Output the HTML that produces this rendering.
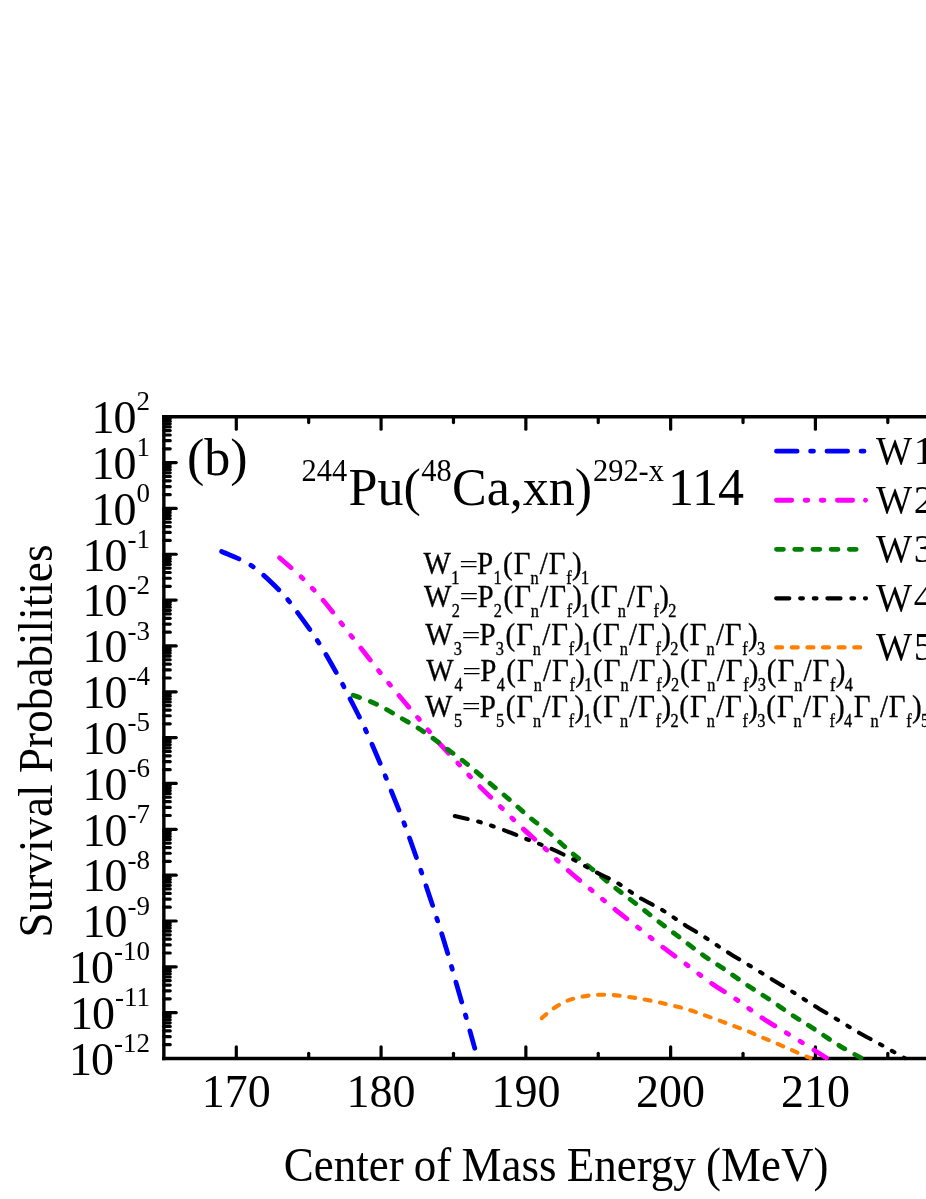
<!DOCTYPE html>
<html><head><meta charset="utf-8"><title>Survival Probabilities</title>
<style>
html,body{margin:0;padding:0;background:#fff;}
body{width:926px;height:1199px;overflow:hidden;position:relative;}
svg{position:absolute;left:0;top:0;display:block;will-change:transform;}
text{font-family:"Liberation Serif",serif;fill:#000;}
</style></head><body>
<svg width="926" height="1199" viewBox="0 0 926 1199">
<rect x="0" y="0" width="926" height="1199" fill="#fff"/>
<g stroke="#000" fill="none" stroke-linecap="butt">
<line x1="163.85" y1="415.05" x2="163.85" y2="1060.20" stroke-width="3.4"/>
<line x1="162.15" y1="416.75" x2="940" y2="416.75" stroke-width="3.4"/>
<line x1="162.15" y1="1058.5" x2="940" y2="1058.5" stroke-width="3.4"/>
</g>
<g stroke="#000" stroke-width="3.2" stroke-linecap="round" fill="none">
<line x1="163.85" y1="448.79" x2="170.2" y2="448.79"/>
<line x1="163.85" y1="440.72" x2="170.2" y2="440.72"/>
<line x1="163.85" y1="434.99" x2="170.2" y2="434.99"/>
<line x1="163.85" y1="430.55" x2="170.2" y2="430.55"/>
<line x1="163.85" y1="426.92" x2="170.2" y2="426.92"/>
<line x1="163.85" y1="423.85" x2="170.2" y2="423.85"/>
<line x1="163.85" y1="421.19" x2="170.2" y2="421.19"/>
<line x1="163.85" y1="418.85" x2="170.2" y2="418.85"/>
<line x1="163.85" y1="462.59" x2="176.2" y2="462.59"/>
<line x1="163.85" y1="494.63" x2="170.2" y2="494.63"/>
<line x1="163.85" y1="486.56" x2="170.2" y2="486.56"/>
<line x1="163.85" y1="480.83" x2="170.2" y2="480.83"/>
<line x1="163.85" y1="476.39" x2="170.2" y2="476.39"/>
<line x1="163.85" y1="472.76" x2="170.2" y2="472.76"/>
<line x1="163.85" y1="469.69" x2="170.2" y2="469.69"/>
<line x1="163.85" y1="467.03" x2="170.2" y2="467.03"/>
<line x1="163.85" y1="464.69" x2="170.2" y2="464.69"/>
<line x1="163.85" y1="508.43" x2="176.2" y2="508.43"/>
<line x1="163.85" y1="540.47" x2="170.2" y2="540.47"/>
<line x1="163.85" y1="532.40" x2="170.2" y2="532.40"/>
<line x1="163.85" y1="526.67" x2="170.2" y2="526.67"/>
<line x1="163.85" y1="522.23" x2="170.2" y2="522.23"/>
<line x1="163.85" y1="518.60" x2="170.2" y2="518.60"/>
<line x1="163.85" y1="515.53" x2="170.2" y2="515.53"/>
<line x1="163.85" y1="512.87" x2="170.2" y2="512.87"/>
<line x1="163.85" y1="510.53" x2="170.2" y2="510.53"/>
<line x1="163.85" y1="554.27" x2="176.2" y2="554.27"/>
<line x1="163.85" y1="586.31" x2="170.2" y2="586.31"/>
<line x1="163.85" y1="578.24" x2="170.2" y2="578.24"/>
<line x1="163.85" y1="572.51" x2="170.2" y2="572.51"/>
<line x1="163.85" y1="568.07" x2="170.2" y2="568.07"/>
<line x1="163.85" y1="564.44" x2="170.2" y2="564.44"/>
<line x1="163.85" y1="561.37" x2="170.2" y2="561.37"/>
<line x1="163.85" y1="558.71" x2="170.2" y2="558.71"/>
<line x1="163.85" y1="556.37" x2="170.2" y2="556.37"/>
<line x1="163.85" y1="600.11" x2="176.2" y2="600.11"/>
<line x1="163.85" y1="632.15" x2="170.2" y2="632.15"/>
<line x1="163.85" y1="624.08" x2="170.2" y2="624.08"/>
<line x1="163.85" y1="618.35" x2="170.2" y2="618.35"/>
<line x1="163.85" y1="613.91" x2="170.2" y2="613.91"/>
<line x1="163.85" y1="610.28" x2="170.2" y2="610.28"/>
<line x1="163.85" y1="607.21" x2="170.2" y2="607.21"/>
<line x1="163.85" y1="604.55" x2="170.2" y2="604.55"/>
<line x1="163.85" y1="602.20" x2="170.2" y2="602.20"/>
<line x1="163.85" y1="645.95" x2="176.2" y2="645.95"/>
<line x1="163.85" y1="677.99" x2="170.2" y2="677.99"/>
<line x1="163.85" y1="669.91" x2="170.2" y2="669.91"/>
<line x1="163.85" y1="664.19" x2="170.2" y2="664.19"/>
<line x1="163.85" y1="659.75" x2="170.2" y2="659.75"/>
<line x1="163.85" y1="656.12" x2="170.2" y2="656.12"/>
<line x1="163.85" y1="653.05" x2="170.2" y2="653.05"/>
<line x1="163.85" y1="650.39" x2="170.2" y2="650.39"/>
<line x1="163.85" y1="648.04" x2="170.2" y2="648.04"/>
<line x1="163.85" y1="691.79" x2="176.2" y2="691.79"/>
<line x1="163.85" y1="723.83" x2="170.2" y2="723.83"/>
<line x1="163.85" y1="715.75" x2="170.2" y2="715.75"/>
<line x1="163.85" y1="710.03" x2="170.2" y2="710.03"/>
<line x1="163.85" y1="705.58" x2="170.2" y2="705.58"/>
<line x1="163.85" y1="701.96" x2="170.2" y2="701.96"/>
<line x1="163.85" y1="698.89" x2="170.2" y2="698.89"/>
<line x1="163.85" y1="696.23" x2="170.2" y2="696.23"/>
<line x1="163.85" y1="693.88" x2="170.2" y2="693.88"/>
<line x1="163.85" y1="737.62" x2="176.2" y2="737.62"/>
<line x1="163.85" y1="769.67" x2="170.2" y2="769.67"/>
<line x1="163.85" y1="761.59" x2="170.2" y2="761.59"/>
<line x1="163.85" y1="755.87" x2="170.2" y2="755.87"/>
<line x1="163.85" y1="751.42" x2="170.2" y2="751.42"/>
<line x1="163.85" y1="747.79" x2="170.2" y2="747.79"/>
<line x1="163.85" y1="744.73" x2="170.2" y2="744.73"/>
<line x1="163.85" y1="742.07" x2="170.2" y2="742.07"/>
<line x1="163.85" y1="739.72" x2="170.2" y2="739.72"/>
<line x1="163.85" y1="783.46" x2="176.2" y2="783.46"/>
<line x1="163.85" y1="815.50" x2="170.2" y2="815.50"/>
<line x1="163.85" y1="807.43" x2="170.2" y2="807.43"/>
<line x1="163.85" y1="801.71" x2="170.2" y2="801.71"/>
<line x1="163.85" y1="797.26" x2="170.2" y2="797.26"/>
<line x1="163.85" y1="793.63" x2="170.2" y2="793.63"/>
<line x1="163.85" y1="790.56" x2="170.2" y2="790.56"/>
<line x1="163.85" y1="787.91" x2="170.2" y2="787.91"/>
<line x1="163.85" y1="785.56" x2="170.2" y2="785.56"/>
<line x1="163.85" y1="829.30" x2="176.2" y2="829.30"/>
<line x1="163.85" y1="861.34" x2="170.2" y2="861.34"/>
<line x1="163.85" y1="853.27" x2="170.2" y2="853.27"/>
<line x1="163.85" y1="847.54" x2="170.2" y2="847.54"/>
<line x1="163.85" y1="843.10" x2="170.2" y2="843.10"/>
<line x1="163.85" y1="839.47" x2="170.2" y2="839.47"/>
<line x1="163.85" y1="836.40" x2="170.2" y2="836.40"/>
<line x1="163.85" y1="833.75" x2="170.2" y2="833.75"/>
<line x1="163.85" y1="831.40" x2="170.2" y2="831.40"/>
<line x1="163.85" y1="875.14" x2="176.2" y2="875.14"/>
<line x1="163.85" y1="907.18" x2="170.2" y2="907.18"/>
<line x1="163.85" y1="899.11" x2="170.2" y2="899.11"/>
<line x1="163.85" y1="893.38" x2="170.2" y2="893.38"/>
<line x1="163.85" y1="888.94" x2="170.2" y2="888.94"/>
<line x1="163.85" y1="885.31" x2="170.2" y2="885.31"/>
<line x1="163.85" y1="882.24" x2="170.2" y2="882.24"/>
<line x1="163.85" y1="879.59" x2="170.2" y2="879.59"/>
<line x1="163.85" y1="877.24" x2="170.2" y2="877.24"/>
<line x1="163.85" y1="920.98" x2="176.2" y2="920.98"/>
<line x1="163.85" y1="953.02" x2="170.2" y2="953.02"/>
<line x1="163.85" y1="944.95" x2="170.2" y2="944.95"/>
<line x1="163.85" y1="939.22" x2="170.2" y2="939.22"/>
<line x1="163.85" y1="934.78" x2="170.2" y2="934.78"/>
<line x1="163.85" y1="931.15" x2="170.2" y2="931.15"/>
<line x1="163.85" y1="928.08" x2="170.2" y2="928.08"/>
<line x1="163.85" y1="925.42" x2="170.2" y2="925.42"/>
<line x1="163.85" y1="923.08" x2="170.2" y2="923.08"/>
<line x1="163.85" y1="966.82" x2="176.2" y2="966.82"/>
<line x1="163.85" y1="998.86" x2="170.2" y2="998.86"/>
<line x1="163.85" y1="990.79" x2="170.2" y2="990.79"/>
<line x1="163.85" y1="985.06" x2="170.2" y2="985.06"/>
<line x1="163.85" y1="980.62" x2="170.2" y2="980.62"/>
<line x1="163.85" y1="976.99" x2="170.2" y2="976.99"/>
<line x1="163.85" y1="973.92" x2="170.2" y2="973.92"/>
<line x1="163.85" y1="971.26" x2="170.2" y2="971.26"/>
<line x1="163.85" y1="968.92" x2="170.2" y2="968.92"/>
<line x1="163.85" y1="1012.66" x2="176.2" y2="1012.66"/>
<line x1="163.85" y1="1044.70" x2="170.2" y2="1044.70"/>
<line x1="163.85" y1="1036.63" x2="170.2" y2="1036.63"/>
<line x1="163.85" y1="1030.90" x2="170.2" y2="1030.90"/>
<line x1="163.85" y1="1026.46" x2="170.2" y2="1026.46"/>
<line x1="163.85" y1="1022.83" x2="170.2" y2="1022.83"/>
<line x1="163.85" y1="1019.76" x2="170.2" y2="1019.76"/>
<line x1="163.85" y1="1017.10" x2="170.2" y2="1017.10"/>
<line x1="163.85" y1="1014.76" x2="170.2" y2="1014.76"/>
<line x1="236.30" y1="416.75" x2="236.30" y2="429.2"/>
<line x1="236.30" y1="1058.5" x2="236.30" y2="1046.8"/>
<line x1="308.69" y1="416.75" x2="308.69" y2="422.6"/>
<line x1="308.69" y1="1058.5" x2="308.69" y2="1053.3"/>
<line x1="381.08" y1="416.75" x2="381.08" y2="429.2"/>
<line x1="381.08" y1="1058.5" x2="381.08" y2="1046.8"/>
<line x1="453.47" y1="416.75" x2="453.47" y2="422.6"/>
<line x1="453.47" y1="1058.5" x2="453.47" y2="1053.3"/>
<line x1="525.86" y1="416.75" x2="525.86" y2="429.2"/>
<line x1="525.86" y1="1058.5" x2="525.86" y2="1046.8"/>
<line x1="598.25" y1="416.75" x2="598.25" y2="422.6"/>
<line x1="598.25" y1="1058.5" x2="598.25" y2="1053.3"/>
<line x1="670.64" y1="416.75" x2="670.64" y2="429.2"/>
<line x1="670.64" y1="1058.5" x2="670.64" y2="1046.8"/>
<line x1="743.03" y1="416.75" x2="743.03" y2="422.6"/>
<line x1="743.03" y1="1058.5" x2="743.03" y2="1053.3"/>
<line x1="815.42" y1="416.75" x2="815.42" y2="429.2"/>
<line x1="815.42" y1="1058.5" x2="815.42" y2="1046.8"/>
<line x1="887.81" y1="416.75" x2="887.81" y2="422.6"/>
<line x1="887.81" y1="1058.5" x2="887.81" y2="1053.3"/>
<line x1="960.20" y1="416.75" x2="960.20" y2="429.2"/>
<line x1="960.20" y1="1058.5" x2="960.20" y2="1046.8"/>
</g>
<defs><clipPath id="pc"><rect x="160" y="410" width="780" height="650.2"/></clipPath></defs>
<g fill="none" stroke-linecap="round" stroke-linejoin="round" clip-path="url(#pc)">
<path d="M221.6,551.5 C226.6,553.9 241.8,559.2 251.6,565.8 C261.4,572.4 272.7,583.6 280.2,591.2 C287.7,598.8 290.2,602.8 296.5,611.2 C302.8,619.6 311.4,631.4 318.1,641.7 C324.8,652.0 331.2,663.5 336.5,673.0 C341.8,682.5 345.2,689.2 350.0,698.6 C354.8,708.0 360.4,718.7 365.4,729.5 C370.4,740.3 375.8,753.0 380.1,763.2 C384.4,773.4 387.1,780.6 391.1,790.6 C395.1,800.6 399.9,812.1 404.1,823.2 C408.3,834.3 412.7,847.1 416.3,857.3 C419.9,867.4 422.1,874.0 425.5,884.1 C428.9,894.2 433.0,906.6 436.7,918.0 C440.4,929.4 444.4,942.1 447.5,952.6 C450.6,963.1 452.5,970.3 455.5,980.7 C458.5,991.1 462.2,1003.5 465.4,1014.8 C468.6,1026.1 473.2,1042.7 474.8,1048.3" stroke="#0000ff" stroke-width="4.8" stroke-dasharray="20.6 13.5 2.9 13.5" stroke-dashoffset="1.7"/>
<path d="M279.6,557.8 C283.3,561.1 294.9,570.8 302.0,577.7 C309.1,584.7 315.9,591.9 322.5,599.5 C329.1,607.1 335.2,615.5 341.5,623.5 C347.8,631.5 354.0,639.3 360.3,647.3 C366.6,655.3 372.9,663.5 379.3,671.5 C385.7,679.5 392.1,687.3 398.5,695.0 C404.9,702.7 411.4,710.1 417.9,717.8 C424.4,725.4 430.5,733.2 437.3,740.9 C444.1,748.6 451.6,756.3 458.5,763.8 C465.4,771.3 471.9,778.6 479.0,785.8 C486.1,793.0 493.8,800.2 501.0,807.2 C508.2,814.2 514.7,821.0 522.0,827.8 C529.3,834.6 537.2,841.2 544.7,848.2 C552.2,855.2 559.6,862.8 567.2,869.6 C574.8,876.4 582.6,882.7 590.3,889.1 C598.0,895.5 605.7,901.9 613.6,908.3 C621.5,914.7 629.8,921.0 637.8,927.3 C645.8,933.6 653.5,940.1 661.6,946.3 C669.7,952.5 678.3,958.5 686.5,964.6 C694.7,970.7 702.7,977.2 711.0,983.0 C719.3,988.8 727.8,993.6 736.1,999.3 C744.4,1005.0 752.6,1011.6 761.0,1017.2 C769.4,1022.8 778.1,1027.7 786.6,1033.0 C795.1,1038.3 805.6,1044.7 812.3,1048.9 C818.9,1053.1 824.1,1056.5 826.5,1058.0" stroke="#ff00ff" stroke-width="4.8" stroke-dasharray="15.2 13.5 2.6 13.5 2.6 13.5"/>
<path d="M353.2,695.2 C356.9,696.6 368.0,700.1 375.7,703.8 C383.4,707.4 391.6,712.5 399.5,717.1 C407.4,721.7 415.8,726.4 423.3,731.4 C430.8,736.4 437.3,741.6 444.5,747.0 C451.7,752.4 459.4,758.0 466.5,763.6 C473.6,769.2 480.0,775.0 487.0,780.9 C494.0,786.8 501.5,792.8 508.6,798.9 C515.7,805.0 522.5,811.4 529.5,817.3 C536.5,823.1 543.6,828.1 550.6,834.0 C557.6,839.9 564.3,846.6 571.3,852.5 C578.3,858.4 585.6,863.9 592.7,869.6 C599.8,875.3 606.9,881.3 614.0,886.9 C621.1,892.5 628.1,897.7 635.4,903.3 C642.6,908.9 650.2,915.0 657.5,920.7 C664.8,926.4 672.0,931.7 679.4,937.3 C686.8,942.9 694.4,949.0 701.8,954.2 C709.2,959.5 716.2,963.7 723.7,968.8 C731.2,973.9 739.3,979.8 746.9,984.9 C754.5,990.0 761.5,994.2 769.1,999.3 C776.7,1004.4 785.1,1010.4 792.7,1015.4 C800.3,1020.4 807.1,1024.4 814.7,1029.4 C822.4,1034.4 830.8,1040.4 838.6,1045.2 C846.4,1050.0 857.5,1055.9 861.3,1058.0" stroke="#008000" stroke-width="4.8" stroke-dasharray="6.9 11.3"/>
<path d="M454.8,816.0 C458.6,816.9 470.0,819.3 477.9,821.5 C485.8,823.7 493.9,826.5 502.0,829.4 C510.1,832.3 518.3,835.9 526.3,839.0 C534.3,842.1 542.1,844.8 549.9,848.2 C557.7,851.6 565.6,855.4 573.2,859.4 C580.8,863.4 588.2,868.0 595.7,872.0 C603.2,876.0 610.7,879.0 618.1,883.4 C625.5,887.8 632.8,893.7 640.2,898.1 C647.6,902.5 655.0,905.6 662.3,910.0 C669.5,914.4 676.6,919.6 683.7,924.2 C690.9,928.8 698.0,932.9 705.2,937.5 C712.4,942.1 719.6,947.2 726.8,951.7 C733.9,956.2 740.8,960.2 748.1,964.7 C755.4,969.2 763.5,974.1 770.8,978.6 C778.1,983.1 784.8,987.0 792.0,991.5 C799.2,996.0 806.8,1001.1 814.2,1005.7 C821.6,1010.3 828.8,1014.4 836.2,1018.9 C843.6,1023.4 851.3,1028.2 858.7,1032.5 C866.1,1036.8 873.3,1040.4 880.6,1044.5 C887.9,1048.6 898.5,1054.7 902.6,1057.0 C906.7,1059.3 904.6,1058.1 905.0,1058.3" stroke="#000000" stroke-width="4.1" stroke-dasharray="13.2 10.8 2.8 10.8 2.8 10.8"/>
<path d="M541.8,1018.1 C543.5,1016.7 548.1,1012.3 552.1,1009.5 C556.1,1006.7 561.1,1003.4 565.8,1001.3 C570.5,999.2 575.4,998.1 580.5,997.0 C585.6,995.9 591.0,995.2 596.2,994.9 C601.4,994.6 606.6,994.7 611.7,995.0 C616.9,995.3 622.0,996.0 627.1,996.7 C632.2,997.4 637.5,998.2 642.6,999.1 C647.8,1000.0 652.9,1001.1 658.0,1002.2 C663.1,1003.3 668.2,1004.4 673.4,1005.7 C678.5,1007.0 684.0,1008.3 688.9,1009.8 C693.8,1011.3 698.0,1013.0 702.9,1014.7 C707.8,1016.4 713.3,1018.3 718.3,1020.1 C723.3,1021.9 728.1,1023.9 733.0,1025.7 C737.9,1027.5 742.9,1029.2 747.6,1031.1 C752.4,1033.0 756.7,1035.2 761.5,1037.2 C766.3,1039.2 771.3,1041.2 776.2,1043.3 C781.1,1045.4 786.1,1047.5 790.8,1049.6 C795.5,1051.7 801.2,1054.3 804.5,1055.7 C807.8,1057.1 809.5,1057.6 810.5,1058.0" stroke="#ff8000" stroke-width="4.1" stroke-dasharray="6.0 9.62"/>
<line x1="776.50" y1="451.20" x2="866.0" y2="451.20" stroke="#0000ff" stroke-width="4.8" stroke-dasharray="20.6 13.5 2.9 13.5"/>
<line x1="776.50" y1="500.25" x2="865.0" y2="500.25" stroke="#ff00ff" stroke-width="4.8" stroke-dasharray="15.2 13.5 2.6 13.5 2.6 13.5"/>
<circle cx="865.5" cy="500.25" r="2.40" fill="#ff00ff" stroke="none"/>
<line x1="776.50" y1="549.30" x2="866.0" y2="549.30" stroke="#008000" stroke-width="4.8" stroke-dasharray="6.9 11.3"/>
<line x1="776.15" y1="598.35" x2="866.0" y2="598.35" stroke="#000000" stroke-width="4.1" stroke-dasharray="13.2 10.8 2.8 10.8 2.8 10.8"/>
<line x1="776.15" y1="647.40" x2="866.0" y2="647.40" stroke="#ff8000" stroke-width="4.1" stroke-dasharray="6.0 9.62"/>
</g>
<text x="149.1" y="432.9" text-anchor="end" font-size="46"><tspan dx="1.0">1</tspan><tspan dx="-1.0">0</tspan><tspan font-size="27" dy="-22.6">2</tspan></text>
<text x="149.1" y="478.8" text-anchor="end" font-size="46"><tspan dx="1.0">1</tspan><tspan dx="-1.0">0</tspan><tspan font-size="27" dy="-22.6">1</tspan></text>
<text x="149.1" y="524.6" text-anchor="end" font-size="46"><tspan dx="1.0">1</tspan><tspan dx="-1.0">0</tspan><tspan font-size="27" dy="-22.6">0</tspan></text>
<text x="149.1" y="570.5" text-anchor="end" font-size="46"><tspan dx="1.0">1</tspan><tspan dx="-1.0">0</tspan><tspan font-size="27" dy="-22.6">-1</tspan></text>
<text x="149.1" y="616.3" text-anchor="end" font-size="46"><tspan dx="1.0">1</tspan><tspan dx="-1.0">0</tspan><tspan font-size="27" dy="-22.6">-2</tspan></text>
<text x="149.1" y="662.1" text-anchor="end" font-size="46"><tspan dx="1.0">1</tspan><tspan dx="-1.0">0</tspan><tspan font-size="27" dy="-22.6">-3</tspan></text>
<text x="149.1" y="708.0" text-anchor="end" font-size="46"><tspan dx="1.0">1</tspan><tspan dx="-1.0">0</tspan><tspan font-size="27" dy="-22.6">-4</tspan></text>
<text x="149.1" y="753.8" text-anchor="end" font-size="46"><tspan dx="1.0">1</tspan><tspan dx="-1.0">0</tspan><tspan font-size="27" dy="-22.6">-5</tspan></text>
<text x="149.1" y="799.7" text-anchor="end" font-size="46"><tspan dx="1.0">1</tspan><tspan dx="-1.0">0</tspan><tspan font-size="27" dy="-22.6">-6</tspan></text>
<text x="149.1" y="845.5" text-anchor="end" font-size="46"><tspan dx="1.0">1</tspan><tspan dx="-1.0">0</tspan><tspan font-size="27" dy="-22.6">-7</tspan></text>
<text x="149.1" y="891.3" text-anchor="end" font-size="46"><tspan dx="1.0">1</tspan><tspan dx="-1.0">0</tspan><tspan font-size="27" dy="-22.6">-8</tspan></text>
<text x="149.1" y="937.2" text-anchor="end" font-size="46"><tspan dx="1.0">1</tspan><tspan dx="-1.0">0</tspan><tspan font-size="27" dy="-22.6">-9</tspan></text>
<text x="149.1" y="983.0" text-anchor="end" font-size="46"><tspan dx="1.0">1</tspan><tspan dx="-1.0">0</tspan><tspan font-size="27" dy="-22.6">-10</tspan></text>
<text x="149.1" y="1028.9" text-anchor="end" font-size="46"><tspan dx="1.0">1</tspan><tspan dx="-1.0">0</tspan><tspan font-size="27" dy="-22.6">-11</tspan></text>
<text x="149.1" y="1074.7" text-anchor="end" font-size="46"><tspan dx="1.0">1</tspan><tspan dx="-1.0">0</tspan><tspan font-size="27" dy="-22.6">-12</tspan></text>
<text x="236.3" y="1107.2" text-anchor="middle" font-size="46">170</text>
<text x="381.1" y="1107.2" text-anchor="middle" font-size="46">180</text>
<text x="525.9" y="1107.2" text-anchor="middle" font-size="46">190</text>
<text x="670.6" y="1107.2" text-anchor="middle" font-size="46">200</text>
<text x="815.4" y="1107.2" text-anchor="middle" font-size="46">210</text>
<text x="960.2" y="1107.2" text-anchor="middle" font-size="46">220</text>
<text transform="translate(283.7,1181) scale(0.9375,1)" font-size="48" word-spacing="-1.1">Center of Mass Energy (MeV)</text>
<text transform="translate(52.1,937.5) rotate(-90) scale(0.934,1)" font-size="48.4">Survival Probabilities</text>
<text x="187" y="475.4" font-size="52">(b)</text>
<text transform="translate(301.6,480.6) scale(0.95,1)" font-size="32">244</text>
<text x="348.6" y="504.8" font-size="52">Pu(</text>
<text transform="translate(421.2,480.6) scale(0.95,1)" font-size="32">48</text>
<text x="452" y="504.8" font-size="52">Ca,xn)</text>
<text transform="translate(593.0,480.6) scale(0.95,1)" font-size="32">292-x</text>
<text x="668" y="504.8" font-size="52">114</text>
<text transform="translate(876,464.2) scale(0.957,1)" font-size="40">W</text><text x="913.75" y="464.2" font-size="40">1</text>
<text transform="translate(876,513.2) scale(0.957,1)" font-size="40">W</text><text x="913.75" y="513.2" font-size="40">2</text>
<text transform="translate(876,562.3) scale(0.957,1)" font-size="40">W</text><text x="913.75" y="562.3" font-size="40">3</text>
<text transform="translate(876,611.3) scale(0.957,1)" font-size="40">W</text><text x="913.75" y="611.3" font-size="40">4</text>
<text transform="translate(876,660.4) scale(0.957,1)" font-size="40">W</text><text x="913.75" y="660.4" font-size="40">5</text>
<text transform="scale(0.906,1)" font-size="32" stroke="#000" stroke-width="0.35"><tspan x="467.55" y="574.5">W</tspan><tspan x="498.20" y="584.3" font-size="18">1</tspan><tspan x="526.57" y="574.5">P</tspan><tspan x="544.67" y="584.3" font-size="18">1</tspan><tspan x="555.26" y="574.5">(</tspan><tspan x="567.08" y="574.5">Γ</tspan><tspan x="585.51" y="584.3" font-size="18">n</tspan><tspan x="595.88" y="574.5">/</tspan><tspan x="605.71" y="574.5">Γ</tspan><tspan x="625.02" y="584.3" font-size="18">f</tspan><tspan x="631.31" y="574.5">)</tspan><tspan x="641.25" y="584.3" font-size="18">1</tspan></text><text transform="translate(459.17,571.9) scale(1.4,1)" font-size="24">=</text>
<text transform="scale(0.906,1)" font-size="32" stroke="#000" stroke-width="0.35"><tspan x="467.99" y="606.7">W</tspan><tspan x="498.64" y="617.0" font-size="18">2</tspan><tspan x="527.01" y="606.7">P</tspan><tspan x="545.11" y="617.0" font-size="18">2</tspan><tspan x="555.71" y="606.7">(</tspan><tspan x="567.52" y="606.7">Γ</tspan><tspan x="585.95" y="617.0" font-size="18">n</tspan><tspan x="596.32" y="606.7">/</tspan><tspan x="606.15" y="606.7">Γ</tspan><tspan x="625.46" y="617.0" font-size="18">f</tspan><tspan x="631.75" y="606.7">)</tspan><tspan x="641.69" y="617.0" font-size="18">1</tspan><tspan x="651.57" y="606.7">(</tspan><tspan x="663.38" y="606.7">Γ</tspan><tspan x="681.81" y="617.0" font-size="18">n</tspan><tspan x="692.19" y="606.7">/</tspan><tspan x="702.01" y="606.7">Γ</tspan><tspan x="721.32" y="617.0" font-size="18">f</tspan><tspan x="727.62" y="606.7">)</tspan><tspan x="737.55" y="617.0" font-size="18">2</tspan></text><text transform="translate(459.57,604.1) scale(1.4,1)" font-size="24">=</text>
<text transform="scale(0.906,1)" font-size="32" stroke="#000" stroke-width="0.35"><tspan x="469.43" y="645.1">W</tspan><tspan x="500.85" y="654.9" font-size="18">3</tspan><tspan x="529.22" y="645.1">P</tspan><tspan x="547.32" y="654.9" font-size="18">3</tspan><tspan x="557.91" y="645.1">(</tspan><tspan x="569.72" y="645.1">Γ</tspan><tspan x="588.16" y="654.9" font-size="18">n</tspan><tspan x="598.53" y="645.1">/</tspan><tspan x="608.36" y="645.1">Γ</tspan><tspan x="627.67" y="654.9" font-size="18">f</tspan><tspan x="633.96" y="645.1">)</tspan><tspan x="643.90" y="654.9" font-size="18">1</tspan><tspan x="653.77" y="645.1">(</tspan><tspan x="665.58" y="645.1">Γ</tspan><tspan x="684.02" y="654.9" font-size="18">n</tspan><tspan x="694.39" y="645.1">/</tspan><tspan x="704.22" y="645.1">Γ</tspan><tspan x="723.53" y="654.9" font-size="18">f</tspan><tspan x="729.82" y="645.1">)</tspan><tspan x="739.76" y="654.9" font-size="18">2</tspan><tspan x="749.64" y="645.1">(</tspan><tspan x="761.45" y="645.1">Γ</tspan><tspan x="779.88" y="654.9" font-size="18">n</tspan><tspan x="790.25" y="645.1">/</tspan><tspan x="800.08" y="645.1">Γ</tspan><tspan x="819.39" y="654.9" font-size="18">f</tspan><tspan x="825.68" y="645.1">)</tspan><tspan x="835.62" y="654.9" font-size="18">3</tspan></text><text transform="translate(461.57,642.5) scale(1.4,1)" font-size="24">=</text>
<text transform="scale(0.906,1)" font-size="32" stroke="#000" stroke-width="0.35"><tspan x="470.53" y="681.4">W</tspan><tspan x="501.73" y="691.0" font-size="18">4</tspan><tspan x="530.10" y="681.4">P</tspan><tspan x="548.20" y="691.0" font-size="18">4</tspan><tspan x="558.80" y="681.4">(</tspan><tspan x="570.61" y="681.4">Γ</tspan><tspan x="589.04" y="691.0" font-size="18">n</tspan><tspan x="599.42" y="681.4">/</tspan><tspan x="609.24" y="681.4">Γ</tspan><tspan x="628.55" y="691.0" font-size="18">f</tspan><tspan x="634.85" y="681.4">)</tspan><tspan x="644.78" y="691.0" font-size="18">1</tspan><tspan x="654.66" y="681.4">(</tspan><tspan x="666.47" y="681.4">Γ</tspan><tspan x="684.90" y="691.0" font-size="18">n</tspan><tspan x="695.28" y="681.4">/</tspan><tspan x="705.10" y="681.4">Γ</tspan><tspan x="724.42" y="691.0" font-size="18">f</tspan><tspan x="730.71" y="681.4">)</tspan><tspan x="740.64" y="691.0" font-size="18">2</tspan><tspan x="750.52" y="681.4">(</tspan><tspan x="762.33" y="681.4">Γ</tspan><tspan x="780.76" y="691.0" font-size="18">n</tspan><tspan x="791.14" y="681.4">/</tspan><tspan x="800.96" y="681.4">Γ</tspan><tspan x="820.28" y="691.0" font-size="18">f</tspan><tspan x="826.57" y="681.4">)</tspan><tspan x="836.50" y="691.0" font-size="18">3</tspan><tspan x="846.38" y="681.4">(</tspan><tspan x="858.19" y="681.4">Γ</tspan><tspan x="876.62" y="691.0" font-size="18">n</tspan><tspan x="887.00" y="681.4">/</tspan><tspan x="896.82" y="681.4">Γ</tspan><tspan x="916.14" y="691.0" font-size="18">f</tspan><tspan x="922.43" y="681.4">)</tspan><tspan x="932.36" y="691.0" font-size="18">4</tspan></text><text transform="translate(462.37,678.8) scale(1.4,1)" font-size="24">=</text>
<text transform="scale(0.906,1)" font-size="32" stroke="#000" stroke-width="0.35"><tspan x="469.09" y="716.6">W</tspan><tspan x="501.07" y="727.0" font-size="18">5</tspan><tspan x="529.44" y="716.6">P</tspan><tspan x="547.54" y="727.0" font-size="18">5</tspan><tspan x="558.13" y="716.6">(</tspan><tspan x="569.94" y="716.6">Γ</tspan><tspan x="588.38" y="727.0" font-size="18">n</tspan><tspan x="598.75" y="716.6">/</tspan><tspan x="608.58" y="716.6">Γ</tspan><tspan x="627.89" y="727.0" font-size="18">f</tspan><tspan x="634.18" y="716.6">)</tspan><tspan x="644.12" y="727.0" font-size="18">1</tspan><tspan x="654.00" y="716.6">(</tspan><tspan x="665.81" y="716.6">Γ</tspan><tspan x="684.24" y="727.0" font-size="18">n</tspan><tspan x="694.61" y="716.6">/</tspan><tspan x="704.44" y="716.6">Γ</tspan><tspan x="723.75" y="727.0" font-size="18">f</tspan><tspan x="730.04" y="716.6">)</tspan><tspan x="739.98" y="727.0" font-size="18">2</tspan><tspan x="749.86" y="716.6">(</tspan><tspan x="761.67" y="716.6">Γ</tspan><tspan x="780.10" y="727.0" font-size="18">n</tspan><tspan x="790.47" y="716.6">/</tspan><tspan x="800.30" y="716.6">Γ</tspan><tspan x="819.61" y="727.0" font-size="18">f</tspan><tspan x="825.91" y="716.6">)</tspan><tspan x="835.84" y="727.0" font-size="18">3</tspan><tspan x="845.72" y="716.6">(</tspan><tspan x="857.53" y="716.6">Γ</tspan><tspan x="875.96" y="727.0" font-size="18">n</tspan><tspan x="886.34" y="716.6">/</tspan><tspan x="896.16" y="716.6">Γ</tspan><tspan x="915.47" y="727.0" font-size="18">f</tspan><tspan x="921.77" y="716.6">)</tspan><tspan x="931.70" y="727.0" font-size="18">4</tspan><tspan x="942.46" y="716.6">Γ</tspan><tspan x="960.89" y="727.0" font-size="18">n</tspan><tspan x="971.27" y="716.6">/</tspan><tspan x="981.09" y="716.6">Γ</tspan><tspan x="1000.41" y="727.0" font-size="18">f</tspan><tspan x="1006.70" y="716.6">)</tspan><tspan x="1016.63" y="727.0" font-size="18">5</tspan></text><text transform="translate(461.77,714.0) scale(1.4,1)" font-size="24">=</text>
</svg>
</body></html>
